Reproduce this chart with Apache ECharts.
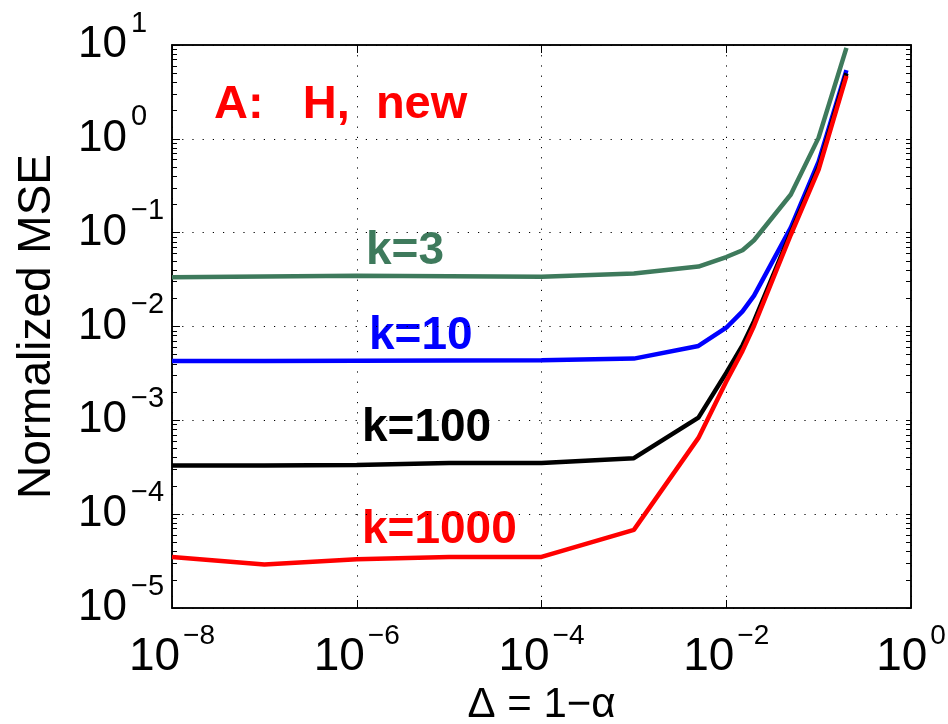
<!DOCTYPE html>
<html>
<head>
<meta charset="utf-8">
<title>Normalized MSE</title>
<script src="https://cdn.jsdelivr.net/npm/echarts@6/dist/echarts.min.js"></script>
<style>
  html, body { margin: 0; padding: 0; background: #fff; }
  #main { width: 948px; height: 724px; }
</style>
</head>
<body>
<div id="main"></div>
<script>
// x values (Delta = 1 - alpha)
var deltas = [1e-8, 1e-7, 1e-6, 1e-5, 1e-4, 1e-3, 5e-3, 1e-2, 1.5e-2, 2e-2, 5e-2, 0.1, 0.2];

// normalized MSE, one list per k
var mseK3    = [0.0335, 0.0341, 0.0347, 0.0343, 0.0339, 0.0367, 0.0435, 0.055, 0.065, 0.083, 0.255, 1.03, 9.3];
var mseK10   = [0.0043, 0.0043, 0.00432, 0.00434, 0.00437, 0.00455, 0.0062, 0.0097, 0.0145, 0.0213, 0.113, 0.57, 5.4];
var mseK100  = [3.3e-4, 3.3e-4, 3.35e-4, 3.5e-4, 3.5e-4, 3.95e-4, 1.07e-3, 3.2e-3, 6.3e-3, 0.0114, 0.1, 0.5, 5.0];
var mseK1000 = [3.5e-5, 2.9e-5, 3.3e-5, 3.5e-5, 3.5e-5, 6.8e-5, 6.5e-4, 2.6e-3, 5.5e-3, 0.0102, 0.095, 0.47, 4.7];

// tick labels
var xTicks = [1e-8, 1e-6, 1e-4, 1e-2, 1];
var yTicks = [1e-5, 1e-4, 1e-3, 1e-2, 1e-1, 1, 10];
var minorMult = [2, 3, 4, 5, 6, 7, 8, 9];

var yMinor = [];
for (var i = 0; i < yTicks.length - 1; i++) {
	for (var j = 0; j < minorMult.length; j++) {
		yMinor.push(+(yTicks[i] * minorMult[j]).toPrecision(3));
	}
}

function pairs(ys) {
	var out = [];
	for (var i = 0; i < deltas.length; i++) {
		out.push([deltas[i], ys[i]]);
	}
	return out;
}

// 10^n label with superscript
function powLabel(v) {
	var e = Math.round(Math.log(v) / Math.LN10);
	var s = e < 0 ? '\u2212' + (-e) : '' + e;
	return '{b|10}{s|' + s + '}';
}

var fontMain = 'Liberation Sans, Arial, Helvetica, sans-serif';
var green = '#3e7a5c';

var dotted = {
	show: true,
	lineStyle: { color: '#000', width: 1, type: [1.2, 9] }
};

var myChart = echarts.init(document.getElementById('main'), null, { renderer: 'canvas' });
var option = {
	backgroundColor: '#fff',
	animation: false,
	grid: {
		left: 172, right: 37, top: 45, bottom: 116,
		outerBoundsMode: 'none',
		containLabel: false,
		show: true, borderColor: '#000', borderWidth: 1.5
	},
	xAxis: [{
		type: 'log',
		position: 'bottom',
		min: 1e-8, max: 1,
		name: '\u0394 = 1\u2212\u03b1',
		nameLocation: 'middle',
		nameGap: 74,
		nameTextStyle: { fontFamily: fontMain, fontSize: 42, color: '#000' },
		axisLine: { onZero: false, lineStyle: { color: '#000', width: 1.5 } },
		axisTick: { inside: true, length: 8, customValues: xTicks, lineStyle: { color: '#000' } },
		axisLabel: {
			customValues: xTicks,
			margin: 14,
			formatter: powLabel,
			rich: {
				b: { fontFamily: fontMain, fontSize: 46, lineHeight: 70, color: '#000', verticalAlign: 'middle' },
				s: { fontFamily: fontMain, fontSize: 28, lineHeight: 28, color: '#000', verticalAlign: 'top', padding: [0, 0, 0, 3] }
			}
		},
		splitLine: dotted
	}, {
		type: 'log',
		position: 'top',
		min: 1e-8, max: 1,
		axisLine: { onZero: false, lineStyle: { color: '#000', width: 1.5 } },
		axisTick: { inside: true, length: 8, customValues: xTicks, lineStyle: { color: '#000' } },
		axisLabel: { show: false },
		splitLine: { show: false }
	}],
	yAxis: [{
		type: 'log',
		position: 'left',
		min: 1e-5, max: 10,
		name: 'Normalized MSE',
		nameLocation: 'middle',
		nameRotate: 90,
		nameGap: 112,
		nameTextStyle: { fontFamily: fontMain, fontSize: 46, color: '#000' },
		axisLine: { onZero: false, lineStyle: { color: '#000', width: 1.5 } },
		axisTick: { inside: true, length: 8, customValues: yTicks, lineStyle: { color: '#000' } },
		axisLabel: {
			customValues: yTicks,
			align: 'left',
			margin: 94,
			formatter: powLabel,
			rich: {
				b: { fontFamily: fontMain, fontSize: 44, lineHeight: 72, color: '#000', verticalAlign: 'middle' },
				s: { fontFamily: fontMain, fontSize: 29, lineHeight: 29, color: '#000', verticalAlign: 'top', padding: [0, 0, 0, 4] }
			}
		},
		splitLine: dotted
	}, {
		// minor ticks, left side
		type: 'log',
		position: 'left',
		min: 1e-5, max: 10,
		axisLine: { show: false },
		axisTick: { inside: true, length: 5, customValues: yMinor, lineStyle: { color: '#000' } },
		axisLabel: { show: false },
		splitLine: { show: false }
	}, {
		// right side: major + minor ticks
		type: 'log',
		position: 'right',
		min: 1e-5, max: 10,
		axisLine: { onZero: false, lineStyle: { color: '#000', width: 1.5 } },
		axisTick: { inside: true, length: 5, customValues: yTicks.concat(yMinor), lineStyle: { color: '#000' } },
		axisLabel: { show: false },
		splitLine: { show: false }
	}],
	series: [
		{ name: 'k=3', type: 'line', data: pairs(mseK3), showSymbol: false, lineStyle: { color: green, width: 4.5 } },
		{ name: 'k=10', type: 'line', data: pairs(mseK10), showSymbol: false, lineStyle: { color: '#0000ff', width: 4.5 } },
		{ name: 'k=100', type: 'line', data: pairs(mseK100), showSymbol: false, lineStyle: { color: '#000000', width: 4.5 } },
		{ name: 'k=1000', type: 'line', data: pairs(mseK1000), showSymbol: false, lineStyle: { color: '#ff0000', width: 4.5 } }
	],
	graphic: [
		{ type: 'text', left: 214, top: 82, style: { text: 'A:   H,  new', fill: '#ff0000', font: 'bold 47px ' + fontMain } },
		{ type: 'text', x: 366, y: 251, style: { text: 'k=3', fill: green, font: 'bold 46px ' + fontMain, verticalAlign: 'middle' } },
		{ type: 'text', x: 369, y: 336, style: { text: 'k=10', fill: '#0000ff', font: 'bold 46px ' + fontMain, verticalAlign: 'middle' } },
		{ type: 'text', x: 362, y: 428, style: { text: 'k=100', fill: '#000000', font: 'bold 46px ' + fontMain, verticalAlign: 'middle' } },
		{ type: 'text', x: 362, y: 530, style: { text: 'k=1000', fill: '#ff0000', font: 'bold 46px ' + fontMain, verticalAlign: 'middle' } }
	]
};
myChart.setOption(option);
</script>
</body>
</html>
